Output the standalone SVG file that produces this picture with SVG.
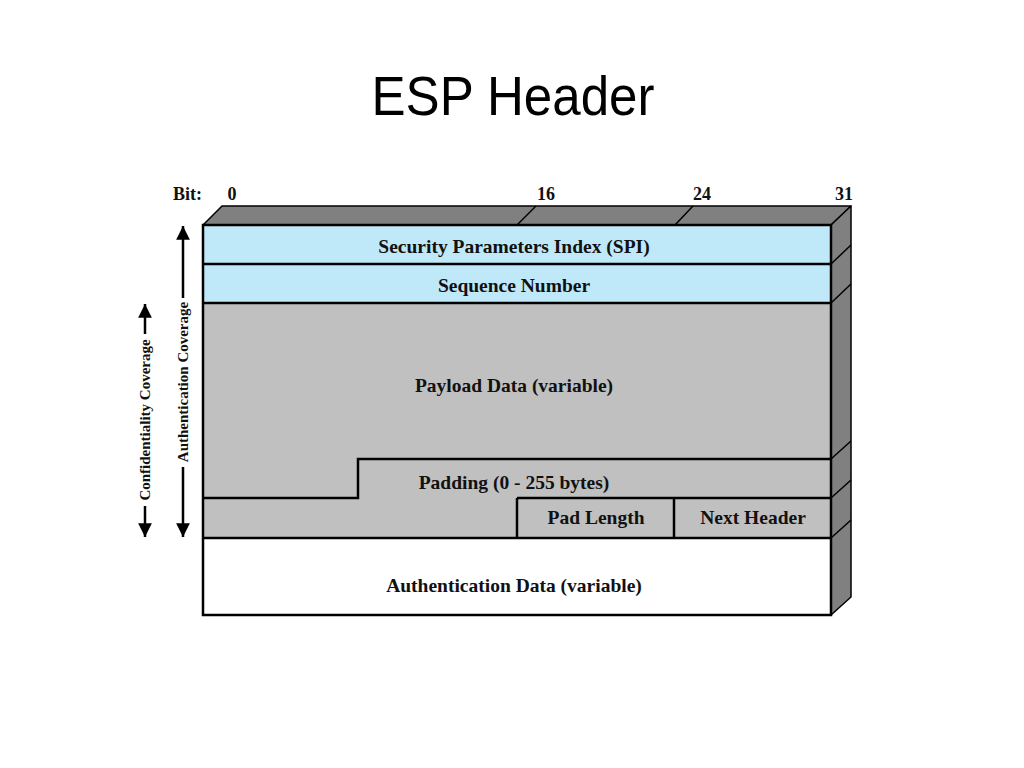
<svg xmlns="http://www.w3.org/2000/svg" width="1024" height="768" viewBox="0 0 1024 768">
  <style>
    .lbl { font-family: "Liberation Serif", "Times New Roman", serif; font-weight: bold; font-size: 19.5px; fill: #111; text-anchor: middle; }
    .bit { font-family: "Liberation Serif", "Times New Roman", serif; font-weight: bold; font-size: 18px; fill: #111; }
    .cov { font-family: "Liberation Serif", "Times New Roman", serif; font-weight: bold; font-size: 15px; fill: #111; text-anchor: middle; }
    .edge { stroke: #000; stroke-width: 2.5; fill: none; }
    .face { fill: #808080; stroke: #000; stroke-width: 1.5; stroke-linejoin: round; }
    .thin { stroke: #000; stroke-width: 1.5; fill: none; }
    .blue { fill: #bfe9f9; }
    .gray { fill: #c0c0c0; }
    .arrow { stroke: #000; stroke-width: 2.5; fill: none; }
  </style>
  <defs>
    <marker id="ah" viewBox="0 0 10 10" refX="10" refY="5" markerWidth="5.5" markerHeight="5.5" orient="auto" markerUnits="strokeWidth">
      <path d="M0,0 L10,5 L0,10 z" fill="#000"/>
    </marker>
  </defs>
  <rect width="1024" height="768" fill="#fff"/>
  <text x="513" y="115" font-family="Liberation Sans, Arial, sans-serif" font-size="56" textLength="283" lengthAdjust="spacingAndGlyphs" text-anchor="middle" fill="#000">ESP Header</text>

  <g id="bit-scale">
    <text class="bit" x="173" y="200">Bit:</text>
    <text class="bit" x="232" y="200" text-anchor="middle">0</text>
    <text class="bit" x="546" y="200" text-anchor="middle">16</text>
    <text class="bit" x="702" y="200" text-anchor="middle">24</text>
    <text class="bit" x="844" y="200" text-anchor="middle">31</text>
  </g>

  <g id="box-3d">
    <polygon class="face" points="203,225 222,206 851,206 831,225"/>
    <polygon class="face" points="831,225 851,206 851,597 831,615"/>
    <line class="thin" x1="517" y1="225" x2="536" y2="206"/>
    <line class="thin" x1="675" y1="225" x2="693" y2="206"/>
    <line class="thin" x1="831" y1="264" x2="851" y2="245"/>
    <line class="thin" x1="831" y1="303" x2="851" y2="284"/>
    <line class="thin" x1="831" y1="459" x2="851" y2="441"/>
    <line class="thin" x1="831" y1="498" x2="851" y2="480"/>
    <line class="thin" x1="831" y1="538" x2="851" y2="520"/>
  </g>

  <g id="spi">
    <rect class="blue" x="203" y="225" width="628" height="39"/>
    <text class="lbl" x="514" y="253">Security Parameters Index (SPI)</text>
  </g>
  <g id="sequence-number">
    <rect class="blue" x="203" y="264" width="628" height="39"/>
    <text class="lbl" x="514" y="292">Sequence Number</text>
  </g>
  <g id="payload-data">
    <polygon class="gray" points="203,303 831,303 831,459 358,459 358,498 203,498"/>
    <text class="lbl" x="514" y="392">Payload Data (variable)</text>
  </g>
  <g id="padding">
    <polygon class="gray" points="358,459 831,459 831,498 517,498 517,538 203,538 203,498 358,498"/>
    <text class="lbl" x="514" y="489">Padding (0 - 255 bytes)</text>
  </g>
  <g id="pad-length">
    <rect class="gray" x="517" y="498" width="157" height="40"/>
    <text class="lbl" x="596" y="524">Pad Length</text>
  </g>
  <g id="next-header">
    <rect class="gray" x="674" y="498" width="157" height="40"/>
    <text class="lbl" x="753" y="524">Next Header</text>
  </g>
  <g id="authentication-data">
    <rect fill="#fff" x="203" y="538" width="628" height="77"/>
    <text class="lbl" x="514" y="592">Authentication Data (variable)</text>
  </g>

  <g id="grid-lines">
    <line class="edge" x1="203" y1="264" x2="831" y2="264"/>
    <line class="edge" x1="203" y1="303" x2="831" y2="303"/>
    <polyline class="edge" points="203,498 358,498 358,459 831,459"/>
    <line class="edge" x1="517" y1="498" x2="831" y2="498"/>
    <line class="edge" x1="517" y1="498" x2="517" y2="538"/>
    <line class="edge" x1="674" y1="498" x2="674" y2="538"/>
    <line class="edge" x1="203" y1="538" x2="831" y2="538"/>
    <rect class="edge" x="203" y="225" width="628" height="390"/>
  </g>

  <g id="connectors">
    <g id="authentication-coverage">
      <line class="arrow" x1="183" y1="298" x2="183" y2="226" marker-end="url(#ah)"/>
      <line class="arrow" x1="183" y1="467" x2="183" y2="537" marker-end="url(#ah)"/>
      <text class="cov" transform="translate(188,382) rotate(-90)">Authentication Coverage</text>
    </g>
    <g id="confidentiality-coverage">
      <line class="arrow" x1="145" y1="334" x2="145" y2="304" marker-end="url(#ah)"/>
      <line class="arrow" x1="145" y1="506" x2="145" y2="537" marker-end="url(#ah)"/>
      <text class="cov" transform="translate(150,420) rotate(-90)">Confidentiality Coverage</text>
    </g>
  </g>
</svg>
